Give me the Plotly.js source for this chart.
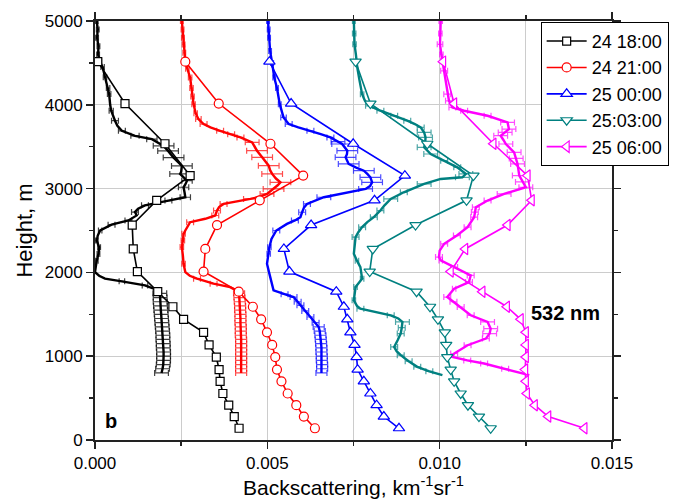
<!DOCTYPE html>
<html>
<head>
<meta charset="utf-8">
<script src="https://cdn.plot.ly/plotly-3.0.1.min.js"></script>
<style>html,body{margin:0;padding:0;background:#fff;}#chart{width:681px;height:500px;}</style>
</head>
<body>
<div id="chart"></div>
<script>
// ---- Series names ----
const seriesNames = ["24 18:00", "24 21:00", "25 00:00", "25:03:00", "25 06:00"];

// ---- Coarse (marker) profiles: shared heights, m ----
const markerHeights = [140, 280, 415, 555, 700, 840, 990, 1135, 1285, 1440, 1590, 1770, 2010, 2280, 2565, 2860, 3155, 3535, 4015, 4515];
const mk1800 = [0.00418,0.00404,0.00388,0.00371,0.00363,0.00360,0.00352,0.00331,0.00315,0.00257,0.00226,0.00182,0.00123,0.00111,0.00108,0.00179,0.00276,0.00203,0.00087,0.00008];
const mk2100 = [0.00638,0.00606,0.00584,0.00559,0.00541,0.00528,0.00523,0.00514,0.00499,0.00482,0.00458,0.00417,0.00315,0.00320,0.00354,0.00478,0.00604,0.00509,0.00359,0.00262];
const mk0000 = [0.00882,0.00838,0.00817,0.00799,0.00780,0.00762,0.00759,0.00753,0.00741,0.00732,0.00722,0.00700,0.00564,0.00548,0.00627,0.00811,0.00899,0.00749,0.00569,0.00506];
const mk0300 = [0.01148,0.01114,0.01082,0.01061,0.01042,0.01032,0.01022,0.01019,0.01015,0.00995,0.00972,0.00933,0.00797,0.00806,0.00930,0.01078,0.01098,0.00964,0.00799,0.00756];
const mk0600 = [0.01420,0.01315,0.01276,0.01253,0.01250,0.01248,0.01250,0.01250,0.01250,0.01235,0.01195,0.01124,0.01032,0.01074,0.01197,0.01267,0.01255,0.01156,0.01042,0.01010];

// ---- High-resolution profiles (height, value, error; error 0 = no bar) ----
const hr1800H = [5000,4900,4800,4700,4600,4520,4450,4330,4200,4130,
 4000,3930,3810,3750,3690,3630,3590,3510,3450,3370,
 3300,3270,3200,3175,3130,3095,3050,3016,2950,2897,
 2857,2800,2760,2720,2680,2620,2570,2500,2440,2380,
 2300,2220,2140,2060,2004,1960,1925,1893,1845,1786,
 1750,1700,1650,1600,1550,1500,1450,1400,1350,1300,
 1250,1200,1150,1100,1050,1000,950,900,850,800];
const hr1800X = [0.00005,0.00008,0.00006,0.00010,0.00009,0.00014,0.00022,0.00029,0.00038,0.00041,
 0.00044,0.00047,0.00058,0.00065,0.00078,0.00116,0.00165,0.00199,0.00212,0.00228,
 0.00245,0.00252,0.00250,0.00247,0.00258,0.00267,0.00262,0.00257,0.00260,0.00262,
 0.00213,0.00145,0.00125,0.00116,0.00121,0.00097,0.00048,0.00015,0.00008,0.00005,
 0.00012,0.00010,0.00005,0.00003,0.00000,0.00012,0.00029,0.00078,0.00145,0.00184,
 0.00188,0.00189,0.00189,0.00190,0.00191,0.00192,0.00193,0.00194,0.00195,0.00196,
 0.00197,0.00197,0.00198,0.00198,0.00199,0.00199,0.00199,0.00198,0.00196,0.00193];
const hr1800E = [0.00004,0.00004,0.00004,0.00004,0.00004,0.00005,0.00005,0.00005,0.00005,0.00005,
 0,0.00006,0.0001,0,0.0001,0.00012,0.00015,0.0003,0.0003,0.0003,
 0,0.0003,0,0.0003,0,0.00015,0,0.00015,0,0.00015,
 0.0001,0.0001,0,0.0001,0,0.0001,0.0001,0.00005,0,0.00004,
 0.00004,0.00004,0.00004,0,0,0,0,0.00008,0.00008,0,
 0.0002,0.0002,0.0002,0.0002,0.0002,0.0002,0.0002,0.0002,0.0002,0.0002,
 0.0002,0.0002,0.0002,0.0002,0.0002,0.0002,0.0002,0.0002,0.0002,0.0002];

const hr2100H = [5000,4900,4800,4720,4620,4524,4430,4325,4200,4100,
 4008,3900,3830,3770,3730,3690,3650,3611,3552,3500,
 3452,3373,3320,3274,3220,3175,3120,3075,3040,2996,
 2937,2900,2877,2817,2780,2738,2679,2640,2599,2500,
 2460,2380,2302,2200,2103,2004,1960,1925,1865,1825,
 1786,1750,1700,1650,1600,1550,1500,1450,1400,1350,
 1300,1250,1200,1150,1100,1050,1000,950,900,850,800];
const hr2100X = [0.00252,0.00254,0.00255,0.00257,0.00259,0.00262,0.00268,0.00276,0.00280,0.00283,
 0.00286,0.00292,0.00300,0.00315,0.00335,0.00363,0.00395,0.00422,0.00456,0.00464,
 0.00470,0.00485,0.00495,0.00504,0.00508,0.00514,0.00525,0.00538,0.00530,0.00518,
 0.00499,0.00475,0.00451,0.00373,0.00360,0.00354,0.00349,0.00320,0.00276,0.00262,
 0.00257,0.00255,0.00252,0.00255,0.00257,0.00262,0.00275,0.00296,0.00344,0.00392,
 0.00410,0.00418,0.00419,0.00420,0.00421,0.00421,0.00422,0.00422,0.00422,0.00423,
 0.00423,0.00423,0.00424,0.00424,0.00424,0.00424,0.00424,0.00424,0.00424,0.00424,0.00424];
const hr2100E = [0.00004,0.00004,0.00004,0.00004,0.00004,0.00004,0.00005,0.00005,0.00005,0.00005,
 0.00005,0.00005,0.00008,0.0001,0,0.0001,0.0001,0.0001,0.0002,0,
 0.0003,0.0003,0,0.0003,0,0.0003,0,0.0003,0,0.0003,
 0.0002,0,0.0002,0.0001,0,0.0001,0.0001,0,0.0001,0,
 0.00005,0.00005,0.00005,0,0.00005,0,0,0.0001,0.0001,0,
 0,0.00016,0.00016,0.00016,0.00016,0.00016,0.00016,0.00016,0.00016,0.00016,
 0.00016,0.00016,0.00016,0.00016,0.00016,0.00016,0.00016,0.00016,0.00016,0.00016,0.00016];

const hr0000H = [5000,4900,4800,4643,4500,4325,4200,4008,3849,3770,
 3730,3690,3650,3611,3560,3532,3452,3410,3373,3294,
 3250,3214,3175,3135,3075,3030,2996,2956,2897,2817,
 2770,2718,2659,2620,2579,2500,2400,2300,2222,2103,
 2000,1905,1786,1740,1706,1650,1607,1540,1468,1400,
 1349,1300,1250,1200,1150,1100,1050,1000,950,900,850,800];
const hr0000X = [0.00502,0.00504,0.00505,0.00508,0.00514,0.00520,0.00528,0.00536,0.00547,0.00562,
 0.00590,0.00625,0.00655,0.00683,0.00705,0.00717,0.00732,0.00731,0.00727,0.00736,
 0.00758,0.00780,0.00790,0.00799,0.00804,0.00798,0.00785,0.00732,0.00664,0.00615,
 0.00606,0.00601,0.00596,0.00580,0.00557,0.00526,0.00512,0.00506,0.00504,0.00499,
 0.00505,0.00511,0.00518,0.00550,0.00576,0.00588,0.00596,0.00610,0.00625,0.00640,
 0.00649,0.00652,0.00654,0.00655,0.00656,0.00657,0.00657,0.00658,0.00658,0.00659,0.00659,0.00657];
const hr0000E = [0.00004,0.00004,0.00004,0.00004,0.00004,0.00004,0.00004,0.00004,0.00008,0.0001,
 0,0.0001,0,0.0001,0.0002,0.0003,0.0003,0,0.0003,0.0003,
 0,0.0003,0,0.0003,0.0003,0,0.0002,0,0.0002,0.0001,
 0,0.0001,0,0.0001,0,0.0001,0,0.00005,0.00005,0,
 0,0,0,0.0001,0.0001,0.0001,0.0001,0.0001,0.0001,0.0001,
 0.00016,0.00016,0.00016,0.00016,0.00016,0.00016,0.00016,0.00016,0.00016,0.00016,0.00016,0.00016];

const hr0300H = [5000,4850,4722,4600,4444,4300,4127,4050,3988,3929,
 3870,3810,3770,3730,3670,3611,3550,3492,3413,3333,
 3254,3175,3135,3115,3056,2956,2877,2800,2738,2659,
 2600,2540,2480,2421,2222,2140,2063,1925,1870,1825,
 1667,1600,1567,1488,1450,1409,1340,1270,1190,1111,
 1060,1012,940,873,820,774];
const hr0300X = [0.00751,0.00752,0.00753,0.00757,0.00761,0.00767,0.00775,0.00783,0.00795,0.00828,
 0.00868,0.00906,0.00928,0.00945,0.00955,0.00959,0.00958,0.00955,0.00974,0.01013,
 0.01051,0.01076,0.01066,0.01003,0.00955,0.00896,0.00858,0.00840,0.00828,0.00809,
 0.00790,0.00775,0.00764,0.00756,0.00751,0.00760,0.00770,0.00775,0.00765,0.00756,
 0.00751,0.00760,0.00770,0.00858,0.00880,0.00892,0.00890,0.00887,0.00878,0.00868,
 0.00875,0.00887,0.00910,0.00935,0.00970,0.01008];
const hr0300E = [0.00004,0.00005,0.00005,0,0,0,0.00005,0,0.0001,0.0001,
 0.0001,0.0001,0,0.0001,0.0002,0.0002,0,0.0002,0.0002,0.0001,
 0.0001,0.0002,0.0002,0,0.0002,0.0001,0.0002,0,0.0001,0.0001,
 0,0.0001,0,0.0001,0,0.00005,0,0.00005,0,0.00005,
 0.00005,0,0.0001,0.0001,0,0.0002,0.0001,0.0001,0,0.0001,
 0,0.0001,0.0001,0.0001,0.0001,0];

const hr0600H = [5000,4850,4722,4600,4524,4405,4250,4127,4048,3968,
 3929,3869,3830,3790,3710,3670,3631,3580,3532,3433,
 3360,3294,3155,3080,3016,2937,2857,2778,2720,2659,
 2540,2440,2341,2260,2183,2143,2063,1964,1885,1806,
 1706,1650,1587,1488,1409,1329,1270,1210,1131,1032,
 992,950,913,850,774];
const hr0600X = [0.01003,0.01002,0.01001,0.01005,0.01008,0.01013,0.01018,0.01022,0.01027,0.01037,
 0.01071,0.01139,0.01170,0.01197,0.01201,0.01190,0.01177,0.01185,0.01192,0.01216,
 0.01222,0.01226,0.01231,0.01240,0.01250,0.01187,0.01139,0.01105,0.01102,0.01100,
 0.01081,0.01050,0.01013,0.01000,0.00998,0.01003,0.01042,0.01090,0.01085,0.01042,
 0.01022,0.01040,0.01061,0.01090,0.01139,0.01148,0.01145,0.01134,0.01081,0.01042,
 0.01037,0.01080,0.01129,0.01190,0.01260];
const hr0600E = [0.00005,0.00005,0.00008,0.00005,0.00005,0.0001,0,0.0001,0.0001,0.0001,
 0.0001,0.0001,0,0.0002,0.0002,0.0002,0.0002,0,0.0002,0.0002,
 0.0002,0.0002,0.0002,0.0002,0.0002,0.0002,0.0001,0.0001,0.0001,0.0001,
 0.0001,0.0001,0.0001,0,0.0001,0.00005,0.0001,0.0001,0.0001,0.00005,
 0.0001,0.0001,0.0001,0.0001,0.0002,0.0002,0.0002,0.0001,0.0001,0.0001,
 0,0.0001,0.0001,0.0001,0];

// ---- Styles ----
const colors = ["#000000", "#ff0000", "#0000ff", "#008080", "#ff00ff"];
const errColors = ["rgba(0,0,0,0.75)", "rgba(255,0,0,0.7)", "rgba(0,0,255,0.7)", "rgba(0,128,128,0.7)", "rgba(255,0,255,0.7)"];
const symbols = ["square", "circle", "triangle-up", "triangle-down", "triangle-left"];
const markerSizes = [8, 9, 10, 10, 10];

const markerSeries = [mk1800, mk2100, mk0000, mk0300, mk0600];
const hrSeries = [
  [hr1800H, hr1800X, hr1800E],
  [hr2100H, hr2100X, hr2100E],
  [hr0000H, hr0000X, hr0000E],
  [hr0300H, hr0300X, hr0300E],
  [hr0600H, hr0600X, hr0600E]
];

const FONT = "Liberation Sans, Arial, Helvetica, sans-serif";
const traces = [];

hrSeries.forEach(function (s, i) {
  const H = s[0], X = s[1], E = s[2];
  if (H.length !== X.length || H.length !== E.length) console.warn("length mismatch", i, H.length, X.length, E.length);
  traces.push({
    type: "scatter", mode: "lines", x: X, y: H,
    line: {color: colors[i], width: 2.4},
    error_x: {type: "data", array: E.map(function (e) { return e > 0 ? e : NaN; }), color: errColors[i], thickness: 1.2, width: 3},
    showlegend: false, hoverinfo: "skip"
  });
});

markerSeries.forEach(function (vals, i) {
  traces.push({
    type: "scatter", mode: "lines+markers", name: seriesNames[i],
    x: vals, y: markerHeights,
    line: {color: colors[i], width: 1.6},
    marker: {symbol: symbols[i], size: markerSizes[i], color: "#ffffff", line: {color: colors[i], width: 1.2}}
  });
});

const gridCol = "#cccccc";
const layout = {
  width: 681, height: 500,
  margin: {l: 95, r: 69, t: 21, b: 60, autoexpand: false},
  paper_bgcolor: "#ffffff", plot_bgcolor: "#ffffff",
  font: {family: FONT, color: "#000"},
  showlegend: true,
  legend: {
    x: 0.862, y: 0.998, xanchor: "left", yanchor: "top",
    bgcolor: "#ffffff", bordercolor: "#000000", borderwidth: 1,
    font: {family: FONT, size: 18, color: "#000"},
    itemwidth: 40,
    tracegroupgap: 0
  },
  xaxis: {
    range: [0, 0.015], tick0: 0, dtick: 0.005, tickformat: ".3f",
    ticks: "outside", ticklen: 7, tickwidth: 1.5, tickcolor: "#222",
    showline: true, linewidth: 2, linecolor: "#222", mirror: "allticks",
    showgrid: true, gridcolor: gridCol, gridwidth: 1, zeroline: false,
    minor: {dtick: 0.0025, tick0: 0, ticks: "outside", ticklen: 4, tickwidth: 1.5, tickcolor: "#222", showgrid: true, gridcolor: gridCol, gridwidth: 1},
    tickfont: {family: FONT, size: 17, color: "#000"},
    title: {text: "Backscattering, km<sup>-1</sup>sr<sup>-1</sup>", font: {family: FONT, size: 21, color: "#000"}, standoff: 5}
  },
  yaxis: {
    range: [0, 5000], tick0: 0, dtick: 1000,
    ticks: "outside", ticklen: 7, tickwidth: 1.5, tickcolor: "#222",
    showline: true, linewidth: 2, linecolor: "#222", mirror: "allticks",
    showgrid: true, gridcolor: gridCol, gridwidth: 1, zeroline: false,
    minor: {dtick: 500, tick0: 0, ticks: "outside", ticklen: 4, tickwidth: 1.5, tickcolor: "#222", showgrid: false},
    tickfont: {family: FONT, size: 17, color: "#000"},
    title: {text: "Height, m", font: {family: FONT, size: 22, color: "#000"}, standoff: 6}
  },
  annotations: [
    {x: 0.01366, y: 1520, xref: "x", yref: "y", text: "<b>532 nm</b>", showarrow: false, font: {family: FONT, size: 20, color: "#000"}},
    {x: 0.00047, y: 230, xref: "x", yref: "y", text: "<b>b</b>", showarrow: false, font: {family: FONT, size: 20, color: "#000"}}
  ]
};

Plotly.newPlot("chart", traces, layout, {displayModeBar: false, staticPlot: true});
</script>
</body>
</html>
